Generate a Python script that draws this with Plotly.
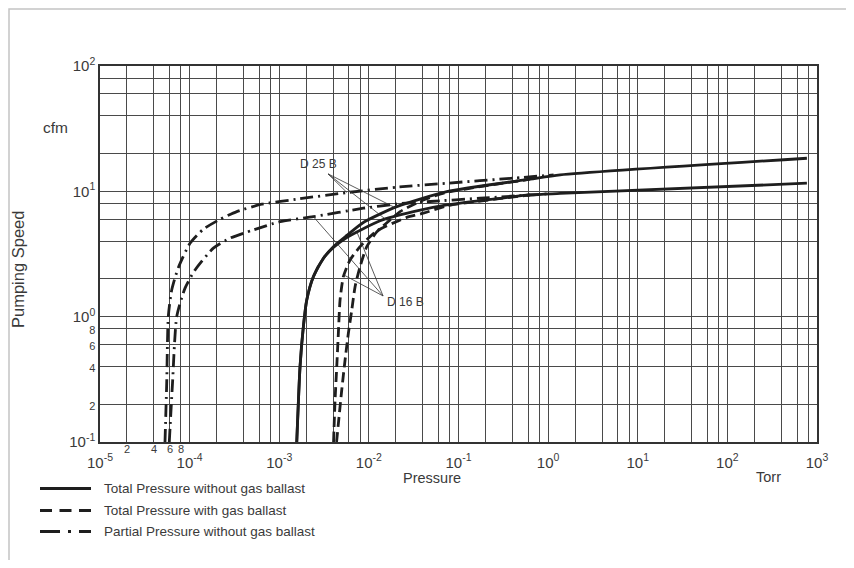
import numpy as np
import plotly.graph_objects as go

# ---------------- data (pressure in Torr, pumping speed in cfm) ----------------
solid_d25b_x = [1.568e-3, 1.706e-3, 1.858e-3, 2.027e-3, 2.402e-3, 3.107e-3, 4.016e-3, 5.666e-3,
                8.68e-3, 0.02049, 0.07401, 0.6295, 1.361, 771.5]
solid_d25b_y = [0.1, 0.399, 0.832, 1.359, 2.085, 2.925, 3.620, 4.447, 5.646, 7.550, 9.945, 12.49, 13.52, 18.37]

solid_d16b_x = [1.568e-3, 1.706e-3, 1.858e-3, 2.027e-3, 2.402e-3, 3.107e-3, 4.016e-3, 5.666e-3,
                0.01334, 0.03138, 0.07401, 0.6295, 1.361, 771.5]
solid_d16b_y = [0.1, 0.399, 0.832, 1.359, 2.085, 2.914, 3.567, 4.286, 5.828, 6.887, 7.790, 9.36, 9.62, 11.61]

dashed_d25b_x = [4.36e-3, 4.98e-3, 5.425e-3, 5.905e-3, 6.446e-3, 7.015e-3, 7.976e-3, 9.475e-3,
                 0.01225, 0.01724, 0.0223, 0.04058, 0.07401, 0.6295]
dashed_d25b_y = [0.1, 0.260, 0.451, 0.737, 1.131, 1.735, 2.506, 3.620, 4.742, 5.912, 6.887, 8.54, 9.80, 12.49]

dashed_d16b_x = [4.036e-3, 4.196e-3, 4.382e-3, 4.566e-3, 4.771e-3, 5.193e-3, 6.169e-3, 7.976e-3,
                 0.01225, 0.02642, 0.04058, 0.07401, 0.6295]
dashed_d16b_y = [0.1, 0.2163, 0.399, 0.737, 1.359, 2.085, 2.835, 3.620, 4.83, 6.19, 6.69, 7.65, 9.36]

partial_d25b_x = [5.31e-5, 5.55e-5, 5.78e-5, 6.31e-5, 7.48e-5, 1.01e-4, 1.42e-4, 2.18e-4, 3.36e-4,
                  6.38e-4, 1.63e-3, 5.66e-3, 0.0205, 0.0740, 0.410, 1.15]
partial_d25b_y = [0.1, 0.294, 1.0, 1.63, 2.46, 3.85, 4.98, 5.98, 6.89, 7.89, 8.69, 9.77, 10.79, 11.61, 12.74, 13.52]

partial_d16b_x = [5.93e-5, 6.44e-5, 7.18e-5, 8.89e-5, 1.15e-4, 1.84e-4, 2.82e-4, 5.14e-4, 1.02e-3,
                  2.40e-3, 8.69e-3, 0.0205, 0.0482, 0.174, 1.0]
partial_d16b_y = [0.1, 0.294, 1.0, 1.69, 2.36, 3.52, 4.23, 4.92, 5.73, 6.28, 7.33, 7.93, 8.3, 8.81, 9.55]

# axis ticks / grid
x_major_exps = [-5, -4, -3, -2, -1, 0, 1, 2, 3]
y_major_exps = [-1, 0, 1, 2]
grid_mults = [2, 4, 6, 8]
x_minor_labels = ["2", "4", "6", "8"]      # shown only in the first x decade
y_minor_labels = ["2", "4", "6", "8"]      # shown only in the first y decade

x_title = "Pressure"
x_unit = "Torr"
y_title = "Pumping Speed"
y_unit = "cfm"

legend_names = ["Total Pressure without gas ballast",
                "Total Pressure with gas ballast",
                "Partial Pressure without gas ballast"]

# callouts: label, apex (x, y), target pressures on the curves
callout_labels = ["D 25 B", "D 16 B"]
callout_apex_x = [3.505e-3, 0.0144]
callout_apex_y = [13.77, 1.463]
callout_label_x = [2.71e-3, 0.01517]
callout_label_y = [16.55, 1.31]
callout_d25b_targets = [5.7e-3, 0.0165, 0.0195]    # partial, dashed, solid
callout_d16b_targets = [2.40e-3, 5.28e-3, 7.38e-3]  # partial, dashed, solid

# ---------------- styling / layout geometry ----------------
FONT = "Liberation Sans, Arial, Helvetica, sans-serif"
TXT = "#3a3a3a"
INK = "#1e1e1e"
GRID = "#4a4a4a"
OFF = 8                       # page body margin
FW, FH = 838, 552             # figure size
PL, PR_, PT, PB = 100, 817, 66, 442   # plot area in page pixels
ML, MT = PL - OFF, PT - OFF
MR, MB = FW - (PR_ - OFF), FH - (PB - OFF)

def px_x(px):
    return (px - PL) / (PR_ - PL)

def px_y(py):
    return (PB - py) / (PB - PT)

DASH = "10px,5px"
DASHDOT = "13px,5px,2px,5px"

fig = go.Figure()

curves = [
    (solid_d25b_x, solid_d25b_y, "solid"),
    (solid_d16b_x, solid_d16b_y, "solid"),
    (dashed_d25b_x, dashed_d25b_y, DASH),
    (dashed_d16b_x, dashed_d16b_y, DASH),
    (partial_d25b_x, partial_d25b_y, DASHDOT),
    (partial_d16b_x, partial_d16b_y, DASHDOT),
]
for xs, ys, dash in curves:
    fig.add_trace(go.Scatter(x=xs, y=ys, mode="lines", showlegend=False, hoverinfo="skip",
                             line=dict(color=INK, width=2.8, dash=dash, shape="spline", smoothing=0.6)))

def curve_y_at(xs, ys, xq):
    return 10 ** np.interp(np.log10(xq), np.log10(xs), np.log10(ys))

# callout leader lines
d25_curves = [(partial_d25b_x, partial_d25b_y), (dashed_d25b_x, dashed_d25b_y), (solid_d25b_x, solid_d25b_y)]
d16_curves = [(partial_d16b_x, partial_d16b_y), (dashed_d16b_x, dashed_d16b_y), (solid_d16b_x, solid_d16b_y)]
for i, (targets, crvs) in enumerate([(callout_d25b_targets, d25_curves), (callout_d16b_targets, d16_curves)]):
    for tx, (cx, cy) in zip(targets, crvs):
        ty = curve_y_at(cx, cy, tx)
        fig.add_trace(go.Scatter(x=[callout_apex_x[i], tx], y=[callout_apex_y[i], ty], mode="lines",
                                 showlegend=False, hoverinfo="skip",
                                 line=dict(color="#333333", width=0.8)))

# ticks: labelled ticks as major, remaining 2-4-6-8 grid lines as minor
x_tickvals = [10.0 ** e for e in x_major_exps]
x_ticktext = [f"10<sup>{e}</sup>" for e in x_major_exps]
x_minorvals = [m * 10.0 ** e for e in x_major_exps[:-1] for m in grid_mults]

y_tickvals = [10.0 ** e for e in y_major_exps]
y_ticktext = [f"10<sup>{e}</sup>" for e in y_major_exps]
for k, m in enumerate(grid_mults):
    y_tickvals.append(m * 10.0 ** y_major_exps[0])
    y_ticktext.append(f"<span style='font-size:11px'>{y_minor_labels[k]}</span>")
y_minorvals = [m * 10.0 ** e for e in y_major_exps[1:-1] for m in grid_mults]

annotations = []
# minor x labels in the first decade (raised above the decade labels)
for k, m in enumerate(grid_mults):
    annotations.append(dict(x=np.log10(m * 10.0 ** x_major_exps[0]), xref="x", y=px_y(449), yref="paper",
                            text=x_minor_labels[k], showarrow=False, xanchor="center", yanchor="middle",
                            font=dict(size=11, color=TXT, family=FONT)))
# axis titles / units
annotations += [
    dict(x=px_x(432), y=px_y(478), xref="paper", yref="paper", text=x_title, showarrow=False,
         font=dict(size=14.5, color=TXT, family=FONT), xanchor="center", yanchor="middle"),
    dict(x=px_x(768), y=px_y(477), xref="paper", yref="paper", text=x_unit, showarrow=False,
         font=dict(size=14.5, color=TXT, family=FONT), xanchor="center", yanchor="middle"),
    dict(x=px_x(18), y=px_y(270), xref="paper", yref="paper", text=y_title, showarrow=False, textangle=-90,
         font=dict(size=16.5, color=TXT, family=FONT), xanchor="center", yanchor="middle"),
    dict(x=px_x(55), y=px_y(127), xref="paper", yref="paper", text=y_unit, showarrow=False,
         font=dict(size=15.5, color=TXT, family=FONT), xanchor="center", yanchor="middle"),
]
# callout labels
annotations.append(dict(x=np.log10(callout_label_x[0]), y=np.log10(callout_label_y[0]), xref="x", yref="y",
                        text=callout_labels[0], showarrow=False, xanchor="center", yanchor="middle",
                        font=dict(size=12, color=TXT, family=FONT)))
annotations.append(dict(x=np.log10(callout_label_x[1]), y=np.log10(callout_label_y[1]), xref="x", yref="y",
                        text=callout_labels[1], showarrow=False, xanchor="left", yanchor="middle",
                        font=dict(size=12, color=TXT, family=FONT)))

# legend (drawn manually)
shapes = []
legend_dashes = ["solid", "12px,7.5px", "20px,8px,3px,8px"]
legend_rows = [488.5, 510.5, 531.5]
for name, dash, ry in zip(legend_names, legend_dashes, legend_rows):
    shapes.append(dict(type="line", xref="paper", yref="paper", x0=px_x(40), x1=px_x(91),
                       y0=px_y(ry), y1=px_y(ry), line=dict(color=INK, width=3, dash=dash)))
    annotations.append(dict(x=px_x(102), y=px_y(ry), xref="paper", yref="paper", text=name,
                            showarrow=False, xanchor="left", yanchor="middle",
                            font=dict(size=13.5, color=TXT, family=FONT)))

# outer light frame (right/bottom edges fall outside the picture)
shapes.append(dict(type="rect", xref="paper", yref="paper", x0=px_x(9), x1=px_x(900),
                   y0=px_y(620), y1=px_y(9), line=dict(color="#c4c4c4", width=1.5), layer="below"))

minor_style = dict(showgrid=True, gridcolor=GRID, gridwidth=1.1, ticks="")

fig.update_layout(
    width=FW, height=FH, autosize=False,
    margin=dict(l=ML, r=MR, t=MT, b=MB, pad=0),
    paper_bgcolor="white", plot_bgcolor="white",
    font=dict(family=FONT, color=TXT, size=15),
    showlegend=False,
    annotations=annotations,
    shapes=shapes,
    xaxis=dict(type="log", range=[-5, 3], tickmode="array", tickvals=x_tickvals, ticktext=x_ticktext,
               minor=dict(tickmode="array", tickvals=x_minorvals, **minor_style),
               showgrid=True, gridcolor=GRID, gridwidth=1.1, zeroline=False,
               showline=True, linecolor="#333333", linewidth=1.5, mirror=True,
               ticks="outside", ticklen=6, tickcolor="rgba(0,0,0,0)",
               tickfont=dict(size=15, color=TXT, family=FONT), tickangle=0),
    yaxis=dict(type="log", range=[-1, 2], tickmode="array", tickvals=y_tickvals, ticktext=y_ticktext,
               minor=dict(tickmode="array", tickvals=y_minorvals, **minor_style),
               showgrid=True, gridcolor=GRID, gridwidth=1.1, zeroline=False,
               showline=True, linecolor="#333333", linewidth=1.5, mirror=True,
               ticks="", tickfont=dict(size=15, color=TXT, family=FONT)),
)

fig.write_html("out.html")
